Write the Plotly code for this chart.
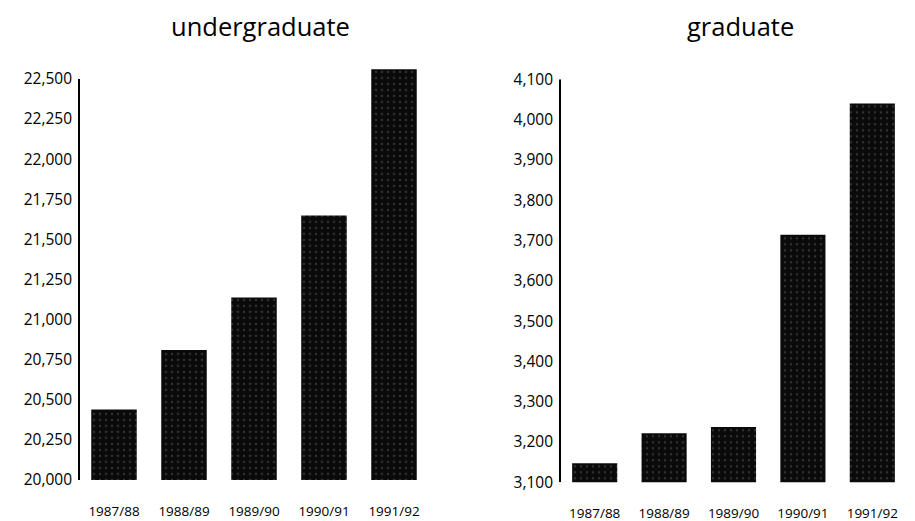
import plotly.graph_objects as go

years = ["1987/88", "1988/89", "1989/90", "1990/91", "1991/92"]
undergrad = [20440, 20810, 21137, 21648, 22560]
grad = [3147, 3222, 3237, 3714, 4040]
ug_ticks = [20000, 20250, 20500, 20750, 21000, 21250, 21500, 21750, 22000, 22250, 22500]
gr_ticks = [3100, 3200, 3300, 3400, 3500, 3600, 3700, 3800, 3900, 4000, 4100]

FONT = "Open Sans"
W, H = 907, 513  # page body has an 8px margin

bar_marker = dict(color="#0a0a0a",
                  pattern=dict(shape=".", fgcolor="#5a5a5a", size=6, solidity=0.12, fillmode="overlay"),
                  line=dict(width=0))

fig = go.Figure()
fig.add_trace(go.Bar(x=years, y=undergrad, marker=bar_marker, xaxis="x", yaxis="y", showlegend=False))
fig.add_trace(go.Bar(x=years, y=grad, marker=bar_marker, xaxis="x2", yaxis="y2", showlegend=False))

tickfont_y = dict(family=FONT, size=15.5, color="black")
tickfont_x = dict(family=FONT, size=13.5, color="black")

fig.update_layout(
    template="none",
    width=W, height=H,
    margin=dict(l=0, r=0, t=0, b=0, pad=0),
    paper_bgcolor="white", plot_bgcolor="white",
    bargap=0.35,
    xaxis=dict(domain=[71 / W, 421 / W], anchor="y", tickfont=tickfont_x, showline=False,
               showgrid=False, ticks="", ticklabelstandoff=21, range=[-0.5, 4.5], automargin=False),
    yaxis=dict(domain=[1 - 472 / H, 1 - 54.9 / H], anchor="x", range=[20000, 22600], tickvals=ug_ticks,
               tickformat=",d", tickfont=tickfont_y, showgrid=False, zeroline=False,
               showline=False, ticks="", ticklabelstandoff=6, automargin=False),
    xaxis2=dict(domain=[552 / W, 899 / W], anchor="y2", tickfont=tickfont_x, showline=False,
                showgrid=False, ticks="", ticklabelstandoff=21, range=[-0.5, 4.5], automargin=False),
    yaxis2=dict(domain=[1 - 474.3 / H, 1 - 71.3 / H], anchor="x2", range=[3100, 4100], tickvals=gr_ticks,
                tickformat=",d", tickfont=tickfont_y, showgrid=False, zeroline=False,
                showline=False, ticks="", ticklabelstandoff=6, automargin=False),
)

# axis lines
fig.add_shape(type="line", xref="x domain", yref="y", x0=0, x1=0, y0=ug_ticks[0], y1=ug_ticks[-1],
              line=dict(color="black", width=2))
fig.add_shape(type="line", xref="x2 domain", yref="y2", x0=0, x1=0, y0=gr_ticks[0], y1=gr_ticks[-1],
              line=dict(color="black", width=2))

fig.add_annotation(text="undergraduate", xref="paper", yref="paper", x=252 / W, y=1.0,
                   showarrow=False, font=dict(family=FONT, size=25.5, color="black"),
                   xanchor="center", yanchor="top", borderpad=0)
fig.add_annotation(text="graduate", xref="paper", yref="paper", x=732 / W, y=1.0,
                   showarrow=False, font=dict(family=FONT, size=25.5, color="black"),
                   xanchor="center", yanchor="top", borderpad=0)

fig.write_html("out.html")
